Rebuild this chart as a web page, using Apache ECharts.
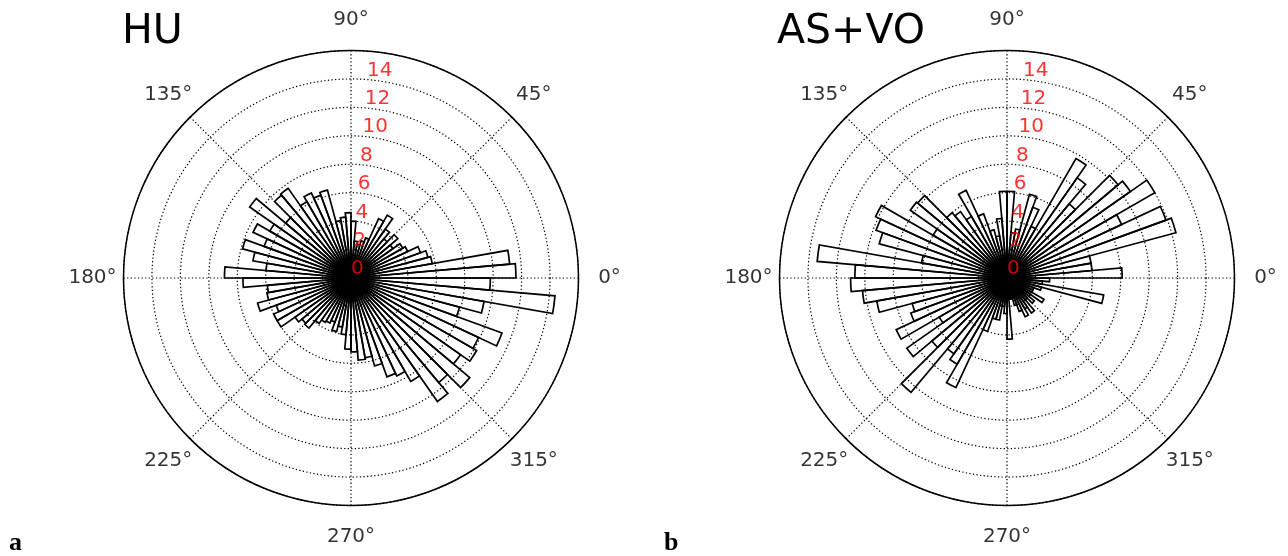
<!DOCTYPE html>
<html>
<head>
<meta charset="utf-8">
<script src="https://cdn.jsdelivr.net/npm/echarts@6/dist/echarts.min.js"></script>
<style>
html,body{margin:0;padding:0;background:#fff;}
#chart{width:1288px;height:556px;}
</style>
</head>
<body>
<div id="chart"></div>
<script>
// ---- data ----
// angular bins: 72 sectors of 5 degrees, starting at 0 deg (east), counter-clockwise
const BIN_WIDTH_DEG = 5;
const BIN_COUNT = 72;
const CATEGORIES = [];
for (let i = 0; i < BIN_COUNT; i++) CATEGORIES.push((i * BIN_WIDTH_DEG) + '-' + ((i + 1) * BIN_WIDTH_DEG));

const HU_VALUES = [
  11.6, 11.2, 5.8, 5.6, 5.2, 4.4, 4.2, 3.6, 4.3, 3.6, 4.2, 5.1, 4.6, 3.0, 2.7, 2.4, 2.6, 4.0,
  4.6, 4.3, 4.1, 6.4, 6.2, 6.6, 6.2, 7.7, 7.6, 6.0, 8.7, 6.6, 7.6, 6.5, 7.9, 7.0, 6.0, 8.9,
  7.6, 5.9, 6.0, 6.8, 5.6, 6.0, 6.0, 4.8, 4.5, 4.6, 3.9, 3.6, 3.5, 3.3, 3.9, 3.5, 4.0, 5.0,
  5.2, 5.8, 5.7, 6.4, 7.4, 7.6, 8.4, 10.6, 9.6, 10.9, 9.4, 10.2, 9.9, 11.3, 7.9, 9.5, 14.4, 9.8
];
const ASVO_VALUES = [
  8.1, 6.0, 6.0, 12.3, 11.9, 8.9, 12.0, 10.6, 10.2, 6.8, 8.6, 9.7, 4.0, 5.3, 6.1, 3.5, 3.2, 6.1,
  6.1, 4.2, 3.0, 3.5, 4.8, 6.8, 5.0, 5.7, 6.0, 8.2, 8.3, 6.0, 10.2, 9.8, 9.3, 6.1, 13.4, 10.7,
  11.0, 10.2, 9.3, 6.9, 7.2, 8.6, 5.5, 8.6, 6.9, 10.5, 6.5, 7.0, 8.5, 4.0, 3.0, 3.0, 2.0, 2.5,
  4.3, 1.5, 1.5, 2.0, 2.5, 3.0, 2.5, 3.0, 2.0, 2.5, 2.0, 3.0, 2.0, 2.0, 2.5, 6.9, 2.5, 3.0
];
const ANGLE_TICKS = [0, 45, 90, 135, 180, 225, 270, 315];
const RADIUS_TICKS = [0, 2, 4, 6, 8, 10, 12, 14];
const RADIUS_MAX = 16;
const PANEL_TITLES = ['HU', 'AS+VO'];
const PANEL_LETTERS = ['a', 'b'];

// ---- layout ----
const PANELS = [
  { cx: 351, cy: 278, values: HU_VALUES, title: PANEL_TITLES[0], titleLeft: 122, letter: PANEL_LETTERS[0], letterLeft: 9 },
  { cx: 1007, cy: 278, values: ASVO_VALUES, title: PANEL_TITLES[1], titleLeft: 777, letter: PANEL_LETTERS[1], letterLeft: 664 }
];
const R_PX = 227.5;
const LABEL_R_PX = 258.5;
const RLABEL_ANGLE = 85.4;
const FONT = 'DejaVu Sans';

const polar = [], angleAxis = [], radiusAxis = [], series = [], title = [];
const dotted = { type: [1.3, 2.3], color: '#000', width: 1.2 };
const hidden = { axisLine: { show: false }, axisTick: { show: false }, axisLabel: { show: false }, splitLine: { show: false } };

PANELS.forEach((p, k) => {
  const base = polar.length;
  // 0: grid polar
  polar.push({ center: [p.cx, p.cy], radius: R_PX });
  angleAxis.push({
    polarIndex: base, type: 'value', min: 0, max: 360, interval: 45, startAngle: 0, clockwise: false, z: 5,
    axisLine: { show: true, lineStyle: { color: '#000', width: 1.5 } },
    axisTick: { show: false }, axisLabel: { show: false },
    splitLine: { show: true, lineStyle: dotted }
  });
  radiusAxis.push({
    polarIndex: base, type: 'value', min: 0, max: RADIUS_MAX, interval: 2, z: 5,
    axisLine: { show: false }, axisTick: { show: false }, axisLabel: { show: false },
    splitLine: { show: true, lineStyle: dotted }
  });
  // 1: bar polar
  polar.push({ center: [p.cx, p.cy], radius: R_PX });
  angleAxis.push(Object.assign({ polarIndex: base + 1, type: 'category', data: CATEGORIES, startAngle: 0, clockwise: false, boundaryGap: true }, hidden));
  radiusAxis.push(Object.assign({ polarIndex: base + 1, type: 'value', min: 0, max: RADIUS_MAX }, hidden));
  // 2: label ring polar
  polar.push({ center: [p.cx, p.cy], radius: LABEL_R_PX });
  angleAxis.push(Object.assign({ polarIndex: base + 2, type: 'value', min: 0, max: 360, startAngle: 0, clockwise: false }, hidden));
  radiusAxis.push(Object.assign({ polarIndex: base + 2, type: 'value', min: 0, max: 1 }, hidden));

  series.push({
    type: 'bar', coordinateSystem: 'polar', polarIndex: base + 1,
    data: p.values, barCategoryGap: '0%', barGap: '0%', silent: true, z: 2,
    itemStyle: { color: 'rgba(255,255,255,0)', borderColor: '#000', borderWidth: 1.7 }
  });
  series.push({
    type: 'scatter', coordinateSystem: 'polar', polarIndex: base, silent: true, z: 10,
    symbolSize: 0, data: RADIUS_TICKS.map(r => [r, RLABEL_ANGLE]),
    label: { show: true, position: 'right', distance: 0, offset: [0, -9], color: '#ff0000', fontSize: 20, fontFamily: FONT,
      formatter: d => String(d.value[0]) }
  });
  series.push({
    type: 'scatter', coordinateSystem: 'polar', polarIndex: base + 2, silent: true, z: 10, clip: false,
    symbolSize: 0, data: ANGLE_TICKS.map(a => [1, a]),
    label: { show: true, position: 'inside', color: '#000', fontSize: 20, fontFamily: FONT,
      formatter: d => d.value[1] + '°' }
  });
  title.push({ text: p.title, left: p.titleLeft, top: 12, padding: 0,
    textStyle: { fontSize: 41, fontWeight: 'normal', fontFamily: FONT, color: '#000' } });
  title.push({ text: p.letter, left: p.letterLeft, top: 530, padding: 0,
    textStyle: { fontSize: 26, fontWeight: 'bold', fontFamily: 'Liberation Serif', color: '#000' } });
});

const chart = echarts.init(document.getElementById('chart'), null, { renderer: 'canvas' });
chart.setOption({
  animation: false,
  backgroundColor: '#fff',
  title, polar, angleAxis, radiusAxis, series
});
</script>
</body>
</html>
